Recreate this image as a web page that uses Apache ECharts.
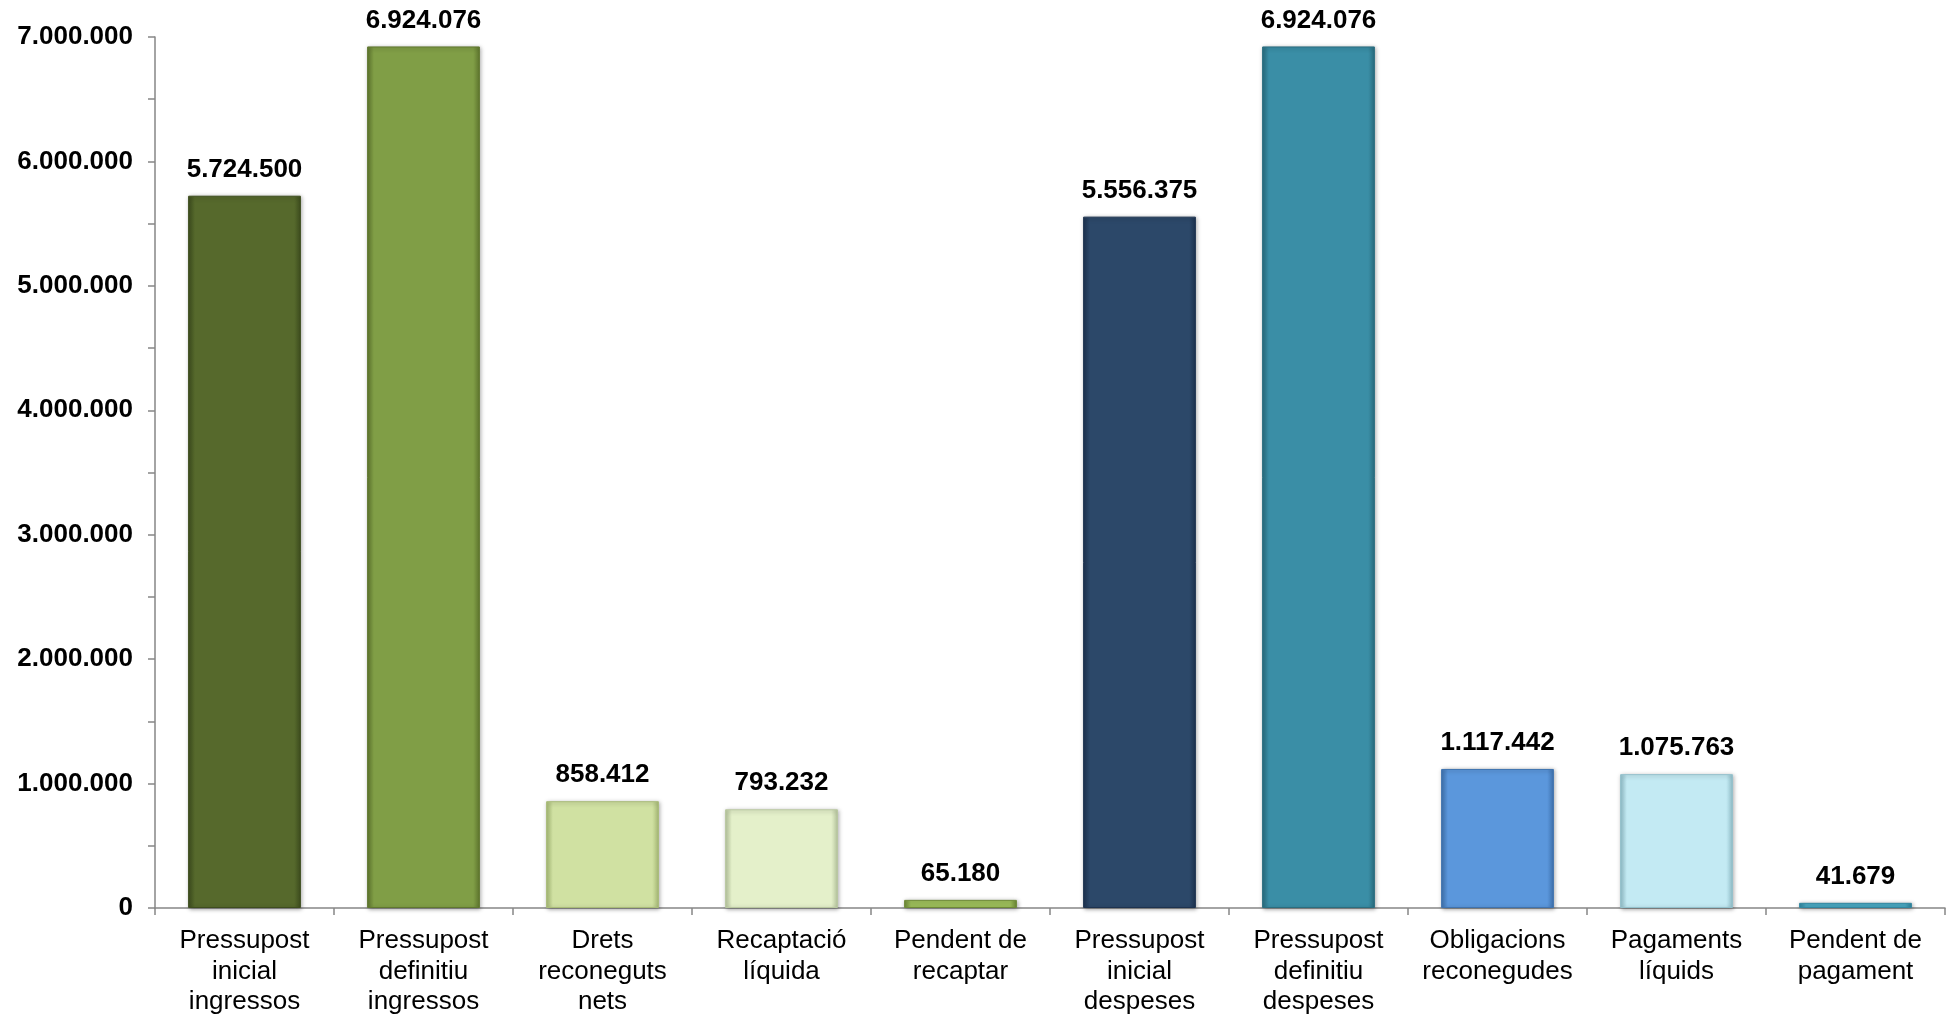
<!DOCTYPE html>
<html>
<head>
<meta charset="utf-8">
<script src="https://cdn.jsdelivr.net/npm/echarts@6/dist/echarts.min.js"></script>
<style>
html,body{margin:0;padding:0;background:#fff;}
#chart{width:1955px;height:1019px;}
</style>
</head>
<body>
<div id="chart"></div>
<script>
const categories = [
  'Pressupost\ninicial\ningressos',
  'Pressupost\ndefinitiu\ningressos',
  'Drets\nreconeguts\nnets',
  'Recaptació\nlíquida',
  'Pendent de\nrecaptar',
  'Pressupost\ninicial\ndespeses',
  'Pressupost\ndefinitiu\ndespeses',
  'Obligacions\nreconegudes',
  'Pagaments\nlíquids',
  'Pendent de\npagament'
];
const values = [5724500, 6924076, 858412, 793232, 65180, 5556375, 6924076, 1117442, 1075763, 41679];
const palette = ['#56692C', '#809E46', '#D0E1A2', '#E4F0CA', '#9DBE5A', '#2C4869', '#3A8EA6', '#5B97DC', '#C3EAF3', '#4BACC6'];
const borders = ['#3E4E1E', '#60782F', '#A9BC78', '#B9C8A0', '#6E8A36', '#1D3350', '#2A6E80', '#3F73B0', '#93C1CC', '#3187A0'];

function fmt(v) {
  return String(Math.round(v)).replace(/\B(?=(\d{3})+(?!\d))/g, '.');
}

const chart = echarts.init(document.getElementById('chart'));
chart.setOption({
  animation: false,
  backgroundColor: '#ffffff',
  grid: {left: 155, right: 10, top: 37, bottom: 111, containLabel: false},
  xAxis: {
    type: 'category',
    data: categories,
    axisLine: {lineStyle: {color: '#868686', width: 1.5}},
    axisTick: {show: true, length: 7, lineStyle: {color: '#868686', width: 1.5}},
    axisLabel: {
      color: '#000', fontFamily: 'Liberation Sans, Arial, sans-serif', fontSize: 26,
      lineHeight: 30.5, margin: 18, interval: 0
    }
  },
  yAxis: {
    type: 'value',
    min: 0, max: 7000000, interval: 500000,
    axisLine: {show: true, lineStyle: {color: '#868686', width: 1.5}},
    axisTick: {show: true, length: 7, lineStyle: {color: '#868686', width: 1.5}},
    splitLine: {show: false},
    axisLabel: {
      color: '#000', fontFamily: 'Liberation Sans, Arial, sans-serif', fontSize: 26, fontWeight: 'bold',
      margin: 22,
      formatter: function (v) { return v % 1000000 === 0 ? fmt(v) : ''; }
    }
  },
  series: [{
    type: 'bar',
    barWidth: '63%',
    data: values.map(function (v, i) {
      return {
        value: v,
        itemStyle: {
          color: {
            type: 'linear', x: 0, y: 0, x2: 1, y2: 0,
            colorStops: [
              {offset: 0, color: borders[i]},
              {offset: 0.06, color: palette[i]},
              {offset: 0.94, color: palette[i]},
              {offset: 1, color: borders[i]}
            ]
          },
          borderColor: borders[i],
          borderWidth: 1,
          shadowColor: 'rgba(0,0,0,0.35)',
          shadowBlur: 4,
          shadowOffsetX: 1,
          shadowOffsetY: 1
        }
      };
    }),
    label: {
      show: true, position: 'top', distance: 13,
      color: '#000', fontFamily: 'Liberation Sans, Arial, sans-serif', fontSize: 26, fontWeight: 'bold',
      formatter: function (p) { return fmt(p.value); }
    }
  }]
});
</script>
</body>
</html>
